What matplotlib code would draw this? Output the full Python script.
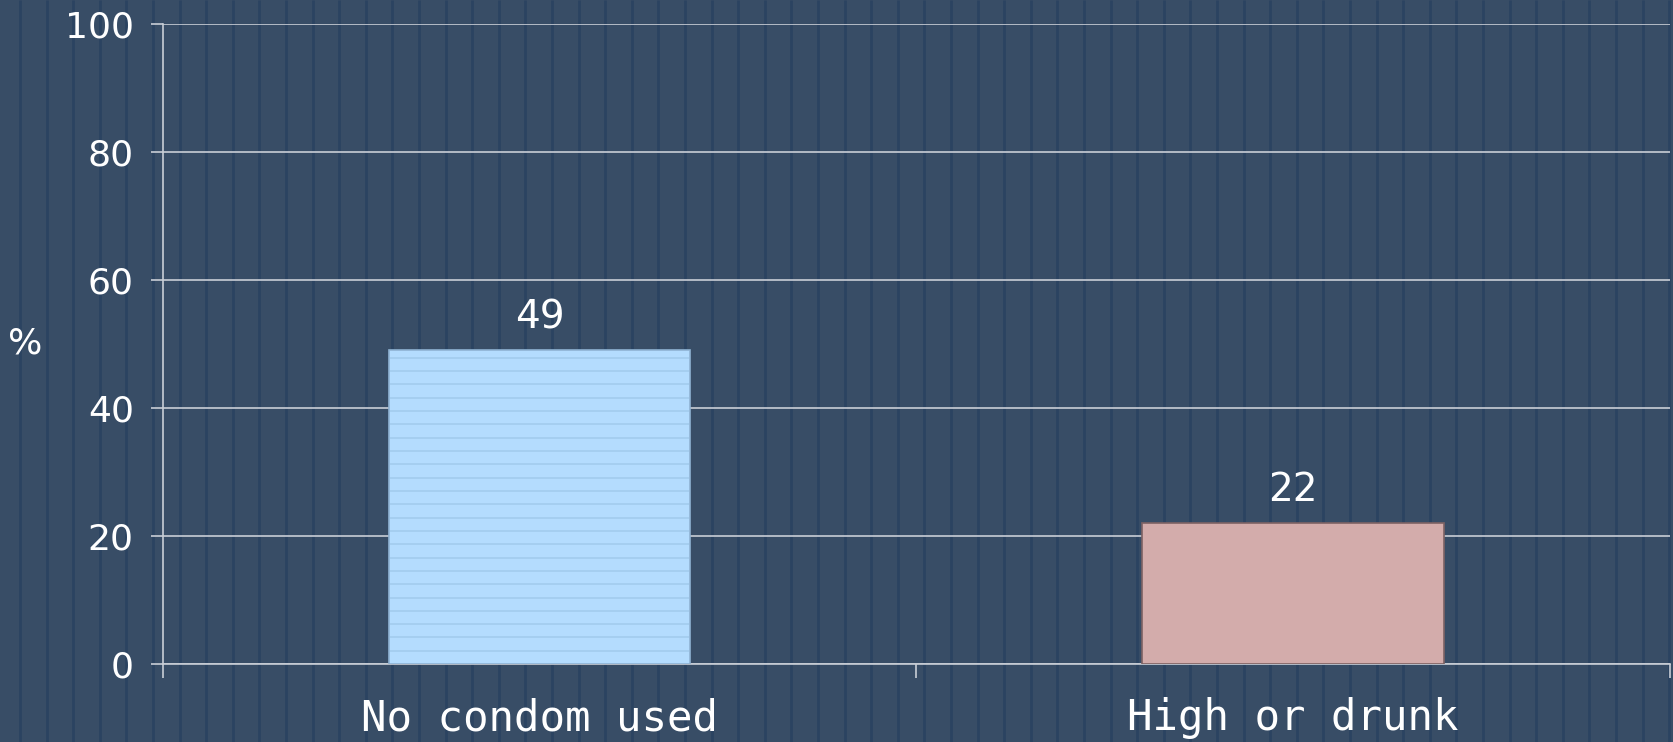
import numpy as np
import matplotlib.pyplot as plt
from matplotlib.ticker import FixedLocator

categories = ['No condom used', 'High or drunk']
values = [49, 22]
yticks = [0, 20, 40, 60, 80, 100]

bg = '#384d66'
stripe = '#2b4361'
grid_col = '#c9ced6'

fig = plt.figure(figsize=(16.73, 7.42), dpi=100, facecolor=bg)

# background with vertical pin stripes
bgax = fig.add_axes([0, 0, 1, 1], zorder=-10)
bgax.set_xlim(0, 1673)
bgax.set_ylim(0, 742)
bgax.axis('off')
bgax.vlines(np.arange(20, 1673, 26.6), 0, 742, color=stripe, lw=2.0)

ax = fig.add_axes([0.0974, 0.105, 0.9006, 0.8627])
ax.set_facecolor('none')

x = np.arange(len(categories))
bars = ax.bar(x, values, width=0.4, color=['#b4dcfe', '#d3acab'],
              edgecolor=['#8fb3d3', '#7d6264'], linewidth=1.2, zorder=3)

# thin horizontal texture lines on the first bar
b = bars[0]
ys = np.arange(2.08, b.get_height(), 2.08)
ax.hlines(ys, b.get_x() + 0.002, b.get_x() + b.get_width() - 0.002,
          color='#a2ccee', lw=1.2, zorder=4)

for rect, v in zip(bars, values):
    ax.text(rect.get_x() + rect.get_width() / 2, v + 2.2, str(v),
            ha='center', va='bottom', color='white', fontsize=28)

ax.set_xlim(-0.5, len(categories) - 0.5)
ax.set_ylim(0, 100)
ax.set_yticks(yticks)
ax.set_yticklabels([str(t) for t in yticks])
ax.yaxis.grid(True, color=grid_col, lw=1.2, zorder=0)
ax.set_axisbelow(True)

ax.xaxis.set_major_locator(FixedLocator(np.arange(len(categories) + 1) - 0.5))
ax.xaxis.set_minor_locator(FixedLocator(x))
ax.set_xticklabels([], minor=False)
ax.set_xticklabels(categories, minor=True, family='DejaVu Sans Mono',
                   fontsize=30.5, color='white')
ax.tick_params(axis='x', which='major', length=10, color=grid_col, width=1.2)
ax.tick_params(axis='x', which='minor', length=0, pad=24)
ax.tick_params(axis='y', length=9, color=grid_col, width=1.2, labelsize=26,
               labelcolor='white', pad=12)

for s in ['top', 'right']:
    ax.spines[s].set_visible(False)
for s in ['left', 'bottom']:
    ax.spines[s].set_color(grid_col)
    ax.spines[s].set_linewidth(1.2)

fig.text(25 / 1673, 1 - 344 / 742, '%', color='white', fontsize=26,
         ha='center', va='center')

fig.savefig('out.png', dpi=100, facecolor=bg)
